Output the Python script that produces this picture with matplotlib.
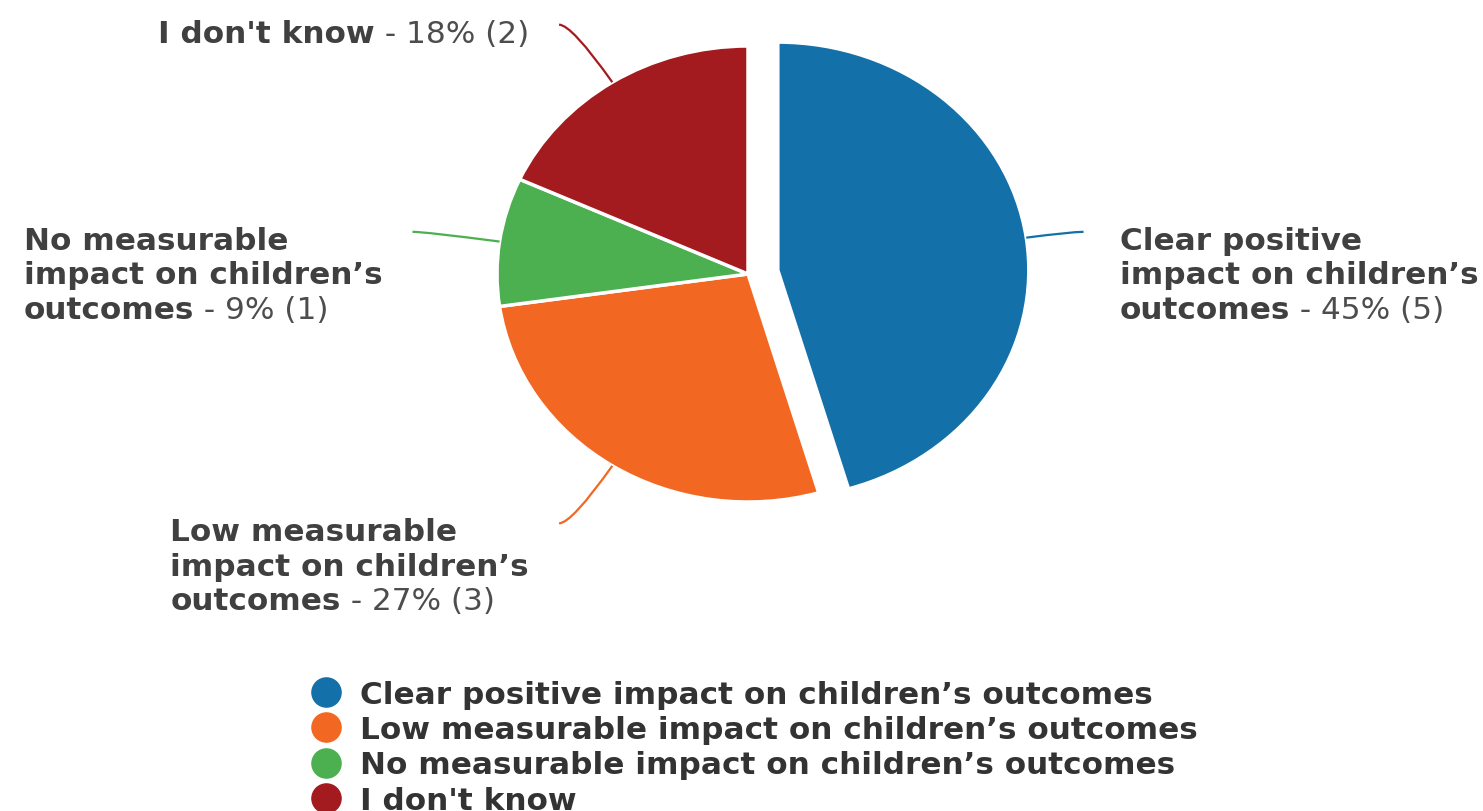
import matplotlib
matplotlib.use("Agg")
import matplotlib.pyplot as plt
import numpy as np
from matplotlib.lines import Line2D
from matplotlib.offsetbox import AnnotationBbox, HPacker, TextArea, VPacker
from matplotlib.path import Path
from matplotlib.patches import PathPatch

plt.rcParams["font.family"] = ["DejaVu Sans"]

categories = [
    "Clear positive impact on children’s outcomes",
    "Low measurable impact on children’s outcomes",
    "No measurable impact on children’s outcomes",
    "I don't know",
]
label_lines = [
    ["Clear positive", "impact on children’s", "outcomes"],
    ["Low measurable", "impact on children’s", "outcomes"],
    ["No measurable", "impact on children’s", "outcomes"],
    ["I don't know"],
]
counts = [5, 3, 1, 2]
colors = ["#1470a8", "#f26722", "#4caf50", "#a31b1e"]

W, H = 1483, 812
fig = plt.figure(figsize=(W / 100, H / 100), dpi=100)
ax = fig.add_axes([0, 0, 1, 1])

# pie centre in pixels and radii (chart is a bit wider than tall)
cx, cy = 748, 275
rx, ry = 251, 228

wedges, _ = ax.pie(
    counts,
    colors=colors,
    startangle=90,
    counterclock=False,
    explode=[0.12, 0, 0, 0],
    wedgeprops=dict(edgecolor="white", linewidth=2.5),
)
ax.set_aspect("auto")
ax.set_xlim(-cx / rx, (W - cx) / rx)
ax.set_ylim(-(H - cy) / ry, cy / ry)
ax.axis("off")

total = sum(counts)
fs = 22.4
txt_color = "#404040"
px2pt = 72 / 100

for w, col, lines, n in zip(wedges, colors, label_lines, counts):
    a = np.deg2rad((w.theta1 + w.theta2) / 2)
    ca, sa = np.cos(a), np.sin(a)
    side = 1 if ca >= 0 else -1
    p0 = (w.center[0] + ca, w.center[1] + sa)
    p1 = (1.3 * ca, 1.3 * sa)
    p2 = (p1[0] + side * 0.05, p1[1])
    path = Path([p0, p1, p2], [Path.MOVETO, Path.CURVE3, Path.CURVE3])
    ax.add_patch(PathPatch(path, fc="none", ec=col, lw=1.6))

    suffix = f" - {round(100 * n / total)}% ({n})"
    bold = dict(fontsize=fs, fontweight="bold", color=txt_color)
    reg = dict(fontsize=fs, color="#4d4d4d")
    rows = [TextArea(s, textprops=bold) for s in lines[:-1]]
    rows.append(HPacker(children=[TextArea(lines[-1], textprops=bold),
                                  TextArea(suffix, textprops=reg)],
                        align="baseline", pad=0, sep=0))
    box = VPacker(children=rows, align="left", pad=0, sep=5.5 * px2pt)
    dx = 36 if side > 0 else -30
    ab = AnnotationBbox(box, p2, xybox=(dx, 6),
                        boxcoords="offset pixels",
                        box_alignment=(0 if side > 0 else 1, 1),
                        frameon=False, pad=0)
    ax.add_artist(ab)

handles = [Line2D([], [], ls="", marker="o", markersize=21,
                  markerfacecolor=c, markeredgecolor=c) for c in colors]
leg = fig.legend(handles, categories, loc="upper left",
                 bbox_to_anchor=(310 / W, 1 - 681 / H),
                 frameon=False, borderpad=0, borderaxespad=0,
                 handlelength=1.0, handletextpad=0.6, labelspacing=0.2,
                 prop=dict(size=fs, weight="bold"))
for t in leg.get_texts():
    t.set_color("#333333")

fig.savefig("out.png", dpi=100)
